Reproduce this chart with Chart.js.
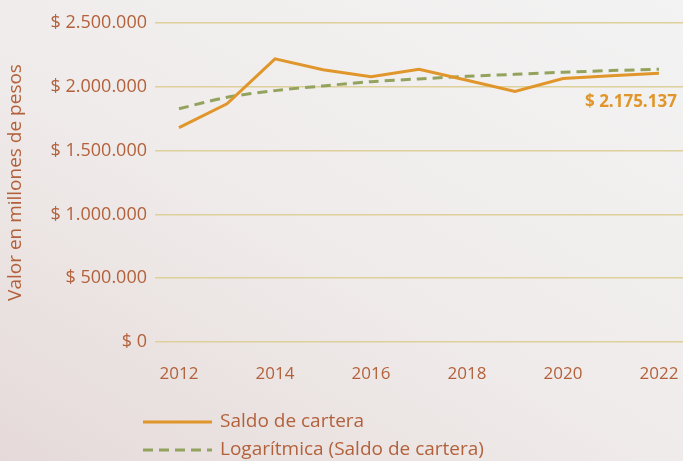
<!DOCTYPE html>
<html>
<head>
<meta charset="utf-8">
<script src="https://cdn.jsdelivr.net/npm/chart.js@4"></script>
<style>
  html, body { margin: 0; padding: 0; }
  body {
    width: 683px; height: 461px; overflow: hidden;
    background: linear-gradient(30deg, #e5dad9 0%, #efebea 45%, #f3f3f3 100%);
  }
  #wrap { position: relative; width: 683px; height: 461px; }
</style>
</head>
<body>
<div id="wrap"><canvas id="c"></canvas></div>
<script>
const years = ['2012', '2013', '2014', '2015', '2016', '2017', '2018', '2019', '2020', '2021', '2022'];
const saldo = [1680000, 1867000, 2219000, 2133000, 2078000, 2138000, 2052000, 1963000, 2065000, 2086000, 2107000];
const tendencia = [1828000, 1918000, 1970000, 2007000, 2040000, 2062000, 2082000, 2098000, 2114000, 2127000, 2138000];
const lastLabel = '$ 2.175.137';
const seriesNames = ['Saldo de cartera', 'Logarítmica (Saldo de cartera)'];

const textColor = '#b3613b';
const orange = '#e0962a';
const green = '#93a35e';
const fontFamily = '"Open Sans", Lato, sans-serif';

const fmt = v => v === 0 ? '$ 0' : '$ ' + v.toLocaleString('de-DE');

// last value label + vertical legend
const extras = {
    id: 'extras',
    afterDraw(chart) {
        const ctx = chart.ctx;
        const meta = chart.getDatasetMeta(0);
        const pt = meta.data[meta.data.length - 1];
        ctx.save();
        ctx.font = 'bold 17px ' + fontFamily;
        ctx.fillStyle = orange;
        ctx.textAlign = 'left';
        ctx.textBaseline = 'middle';
        ctx.fillText(lastLabel, pt.x - 74, pt.y + 29);

        const x0 = 143, rows = [422, 450];
        chart.data.datasets.forEach((ds, i) => {
            const y = rows[i];
            ctx.strokeStyle = ds.borderColor;
            ctx.lineWidth = 3;
            ctx.setLineDash(ds.borderDash || []);
            ctx.beginPath();
            ctx.moveTo(x0, y);
            ctx.lineTo(x0 + 69, y);
            ctx.stroke();
            ctx.setLineDash([]);
            ctx.font = '19px ' + fontFamily;
            ctx.fillStyle = textColor;
            ctx.fillText(ds.label, x0 + 77, y);
        });
        ctx.restore();
    }
};

new Chart(document.getElementById('c'), {
    type: 'line',
    data: {
        labels: years,
        datasets: [
            {
                label: seriesNames[0],
                data: saldo,
                borderColor: orange,
                borderWidth: 3,
                pointRadius: 0,
                tension: 0
            },
            {
                label: seriesNames[1],
                data: tendencia,
                borderColor: green,
                borderWidth: 3,
                borderDash: [10, 6],
                pointRadius: 0,
                tension: 0.3
            }
        ]
    },
    options: {
        responsive: true,
        maintainAspectRatio: false,
        animation: false,
        layout: { padding: { top: 23, right: 0, bottom: 71, left: 0 } },
        plugins: {
            legend: { display: false },
            tooltip: { enabled: false }
        },
        scales: {
            x: {
                offset: true,
                afterFit: scale => {
                    scale.height = 48;
                    scale.paddingLeft = 0;
                    scale.paddingRight = 0;
                },
                grid: { display: false },
                border: { display: false },
                ticks: {
                    autoSkip: false,
                    maxRotation: 0,
                    padding: 14,
                    color: textColor,
                    font: { family: fontFamily, size: 17 },
                    callback: (v, i) => i % 2 === 0 ? years[i] : ''
                }
            },
            y: {
                min: 0,
                max: 2500000,
                afterFit: scale => {
                    scale.width = 155;
                    scale.paddingTop = 0;
                    scale.paddingBottom = 0;
                },
                grid: { color: '#ddd09a', lineWidth: 1.5, drawTicks: false },
                border: { display: false },
                ticks: {
                    stepSize: 500000,
                    padding: 8,
                    color: textColor,
                    font: { family: fontFamily, size: 18 },
                    callback: v => fmt(v)
                },
                title: {
                    display: true,
                    text: 'Valor en millones de pesos',
                    color: textColor,
                    padding: { top: 4, bottom: 0 },
                    font: { family: fontFamily, size: 19 }
                }
            }
        }
    },
    plugins: [extras]
});
</script>
</body>
</html>
